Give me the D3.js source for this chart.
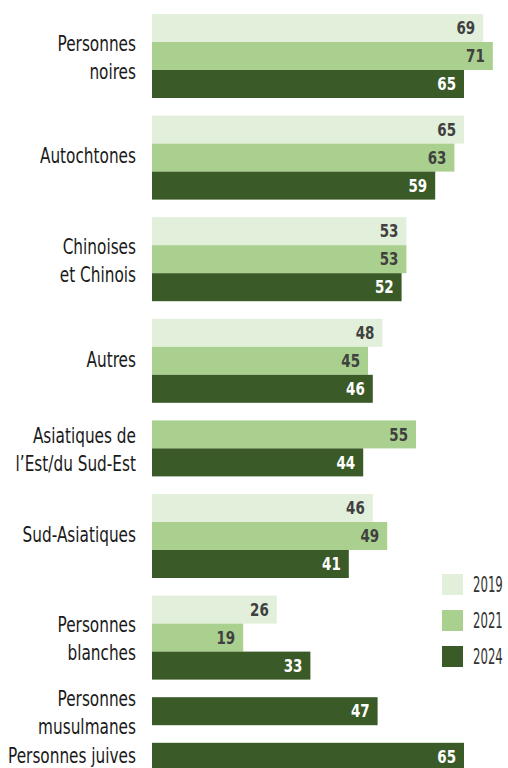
<!DOCTYPE html>
<html>
<head>
<meta charset="utf-8">
<script src="https://cdn.jsdelivr.net/npm/d3@7"></script>
<style>
  body { margin: 0; background: #fff; }
  svg text { font-family: "Liberation Sans Narrow", "DejaVu Sans Condensed", "DejaVu Sans", sans-serif; font-stretch: condensed; }
</style>
</head>
<body>
<div id="chart"></div>
<script>
// data
var categories = ["Personnes noires", "Autochtones", "Chinoises et Chinois", "Autres",
  "Asiatiques de l’Est/du Sud-Est", "Sud-Asiatiques", "Personnes blanches",
  "Personnes musulmanes", "Personnes juives"];
var labelLines = [["Personnes", "noires"], ["Autochtones"], ["Chinoises", "et Chinois"], ["Autres"],
  ["Asiatiques de", "l’Est/du Sud-Est"], ["Sud-Asiatiques"], ["Personnes", "blanches"],
  ["Personnes", "musulmanes"], ["Personnes juives"]];
var years = ["2019", "2021", "2024"];
var v2019 = [69, 65, 53, 48, null, 46, 26, null, null];
var v2021 = [71, 63, 53, 45, 55, 49, 19, null, null];
var v2024 = [65, 59, 52, 46, 44, 41, 33, 47, 65];

var colors = ["#e2efda", "#a9d08e", "#3a5a27"];
var textColors = ["#404040", "#404040", "#ffffff"];

var width = 508, height = 768;
var barH = 28, gap = 17.6, topY = 14;

var svg = d3.select("#chart").append("svg")
  .attr("width", width)
  .attr("height", height);

var x = d3.scaleLinear().domain([0, 100]).range([152, 632]);

// lay out the bars group by group, skipping missing years
var series = [v2019, v2021, v2024];
var bars = [], groups = [];
var slot = 0;
categories.forEach(function (c, i) {
  var start = slot;
  series.forEach(function (s, j) {
    if (s[i] != null) {
      bars.push({ cat: i, year: j, value: s[i], slot: slot });
      slot++;
    }
  });
  groups.push({ cat: i, first: start, last: slot });
});
var yPos = function (slotIdx, groupIdx) { return topY + slotIdx * barH + groupIdx * gap; };

// squeeze text horizontally to get closer to the condensed face of the original
function squeeze(sel, fx, fy, sx) {
  sel.attr("transform", function (d, i) {
    return "translate(" + fx(d, i) + "," + fy(d, i) + ") scale(" + sx + ",1)";
  });
}

var g = svg.append("g");

g.selectAll("rect.bar")
  .data(bars)
  .enter()
  .append("rect")
  .attr("class", "bar")
  .attr("x", x(0))
  .attr("y", function (d) { return yPos(d.slot, d.cat); })
  .attr("width", function (d) { return x(d.value) - x(0); })
  .attr("height", barH)
  .attr("fill", function (d) { return colors[d.year]; });

g.selectAll("text.val")
  .data(bars)
  .enter()
  .append("text")
  .attr("class", "val")
  .attr("dy", "0.36em")
  .attr("text-anchor", "end")
  .attr("font-size", 17)
  .attr("font-weight", "bold")
  .attr("fill", function (d) { return textColors[d.year]; })
  .text(function (d) { return d.value; })
  .call(squeeze,
    function (d) { return x(d.value) - 8; },
    function (d) { return yPos(d.slot, d.cat) + barH / 2; },
    0.88);

// category labels, one text per line
var lineData = [];
groups.forEach(function (d) {
  var lines = labelLines[d.cat];
  var cy = (yPos(d.first, d.cat) + yPos(d.last, d.cat)) / 2 + (lines.length > 1 ? 1.5 : -1.5);
  lines.forEach(function (line, k) {
    lineData.push({ text: line, y: cy + (k - (lines.length - 1) / 2) * 28 });
  });
});

g.selectAll("text.cat")
  .data(lineData)
  .enter()
  .append("text")
  .attr("class", "cat")
  .attr("text-anchor", "end")
  .attr("dy", "0.36em")
  .attr("font-size", 20.5)
  .attr("fill", "#1a1a1a")
  .text(function (d) { return d.text; })
  .call(squeeze, function () { return 136; }, function (d) { return d.y; }, 0.83);

// legend
var legend = svg.append("g").attr("transform", "translate(442,574)");
var li = legend.selectAll("g")
  .data(years)
  .enter()
  .append("g")
  .attr("transform", function (d, i) { return "translate(0," + (i * 36) + ")"; });
li.append("rect")
  .attr("width", 21)
  .attr("height", 21)
  .attr("fill", function (d, i) { return colors[i]; });
li.append("text")
  .attr("dy", "0.36em")
  .attr("font-size", 21)
  .attr("fill", "#333")
  .text(function (d) { return d; })
  .call(squeeze, function () { return 31; }, function () { return 10.5; }, 0.62);
</script>
</body>
</html>
